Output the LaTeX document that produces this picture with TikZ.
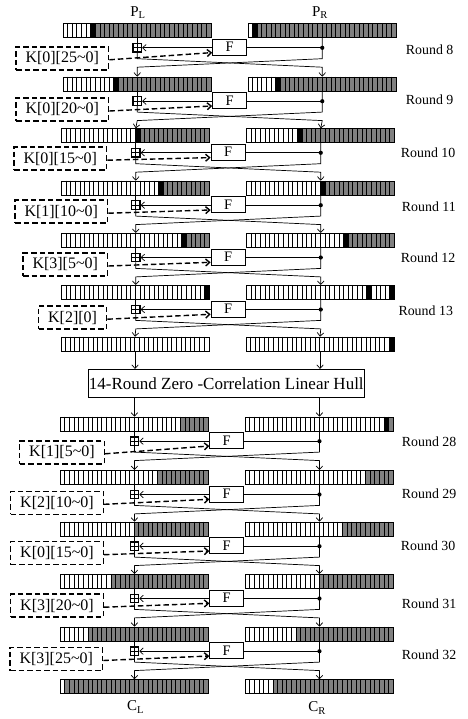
\documentclass[tikz,border=0pt]{standalone}
\usepackage{fontspec}
\setmainfont{Liberation Serif}
\usetikzlibrary{arrows.meta,calc}
\definecolor{cellgray}{RGB}{128,128,128}
\tikzset{
  conn/.style={line width=0.7pt},
  regarrow/.style={conn,-{Straight Barb[length=3.5pt,width=6.5pt]}},
  keybox/.style={draw,line width=1.5pt,dash pattern=on 5.5pt off 3pt,inner xsep=9.5pt,inner ysep=2pt,minimum height=23pt,font=\fontsize{16}{18}\selectfont},
  keyarrow/.style={line width=1.4pt,dash pattern=on 5.5pt off 3pt,-{Straight Barb[length=4pt,width=7pt]}},
  fbox/.style={draw,line width=0.8pt,minimum width=34pt,minimum height=16pt,inner sep=0pt,font=\fontsize{14.5}{16}\selectfont},
  addbox/.style={draw,line width=1.1pt,minimum size=8.5pt,inner sep=0pt,fill=white,
    path picture={\draw[line width=1.1pt] (path picture bounding box.north)--(path picture bounding box.south) (path picture bounding box.west)--(path picture bounding box.east);}},
  dotnode/.style={circle,fill=black,minimum size=4.2pt,inner sep=0pt},
  roundlbl/.style={anchor=west,inner sep=0pt,font=\fontsize{13.9}{15}\selectfont},
  iolbl/.style={inner sep=0pt,font=\fontsize{15}{17}\selectfont},
  hullbox/.style={draw,line width=0.8pt,minimum width=276.6pt,minimum height=28pt,inner sep=0pt,font=\fontsize{17}{19}\selectfont},
  regframe/.style={draw,line width=0.9pt,minimum width=148pt,minimum height=14pt,inner sep=0pt,anchor=north west},
}
\newcommand{\regbar}[4]{%
  \foreach \sa/\sb/\sc in {#4}{\fill[\sc] ({#2+\sa*4.625},#3) rectangle ({#2+\sb*4.625},{#3+14});}
  \foreach \k in {1,...,31}{\draw[line width=0.5pt] ({#2+\k*4.625},#3) -- ({#2+\k*4.625},{#3+14});}
  \node[regframe] (#1) at (#2,#3) {};
}
\newcommand{\feistelround}[8]{%
  \path (regL#1.north) ++(0,24.5) node[addbox] (add#1) {};
  \path (regR#1.north) ++(0,24.5) node[dotnode] (dot#1) {};
  \path (regL#1.north) ++(92.3,23.9) node[fbox] (F#1) {F};
  \node[keybox,anchor=east] (K#1) at (#5,#4) {#3};
  \node[roundlbl] (R#1) at (#7,#8) {#6};
  \coordinate (la#1) at ($(regL#1.south)+(0,20.5)$);
  \coordinate (lb#1) at ($(regL#1.south)+(0,29)$);
  \coordinate (ra#1) at ($(regR#1.south)+(0,20.5)$);
  \coordinate (rb#1) at ($(regR#1.south)+(0,29)$);
  \draw[conn] (regL#1.south) -- (add#1.north);
  \draw[regarrow] (add#1.south) -- (la#1) -- (rb#1) -- (regR#2.north);
  \draw[regarrow] (regR#1.south) -- (ra#1) -- (lb#1) -- (regL#2.north);
  \draw[conn] (dot#1.center) -- (dot#1 -| F#1.east);
  \draw[regarrow] (F#1.west |- add#1) -- (add#1.east);
  \draw[keyarrow] ($(K#1.east)+(0,1.5)$) -- ($(F#1.south west)+(0,-3)$);
}
\begin{document}
\begin{tikzpicture}[x=1pt,y=-1pt]
\useasboundingbox (0,0) rectangle (467,719);
% registers
\regbar{regL0}{62.8}{23.3}{0/6/white,6/7/black,7/32/cellgray}
\regbar{regR0}{247.8}{23.3}{0/1/white,1/2/black,2/32/cellgray}
\regbar{regL1}{62.8}{76.7}{0/11/white,11/12/black,12/32/cellgray}
\regbar{regR1}{247.8}{76.7}{0/6/white,6/7/black,7/32/cellgray}
\regbar{regL2}{61.3}{128.3}{0/16/white,16/17/black,17/32/cellgray}
\regbar{regR2}{246.3}{128.3}{0/11/white,11/12/black,12/32/cellgray}
\regbar{regL3}{61.3}{180.7}{0/21/white,21/22/black,22/32/cellgray}
\regbar{regR3}{246.3}{180.7}{0/16/white,16/17/black,17/32/cellgray}
\regbar{regL4}{61.3}{233}{0/26/white,26/27/black,27/32/cellgray}
\regbar{regR4}{246.3}{233}{0/21/white,21/22/black,22/32/cellgray}
\regbar{regL5}{61.3}{285}{0/31/white,31/32/black}
\regbar{regR5}{246.3}{285}{0/26/white,26/27/black,27/31/white,31/32/black}
\regbar{regL6}{60.6}{336.7}{0/32/white}
\regbar{regR6}{245.6}{336.7}{0/31/white,31/32/black}
\regbar{regL7}{60}{416.7}{0/26/white,26/32/cellgray}
\regbar{regR7}{245}{416.7}{0/30/white,30/31/black,31/32/cellgray}
\regbar{regL8}{60}{470}{0/21/white,21/32/cellgray}
\regbar{regR8}{245}{470}{0/26/white,26/32/cellgray}
\regbar{regL9}{60}{521.7}{0/16/white,16/32/cellgray}
\regbar{regR9}{245}{521.7}{0/21/white,21/32/cellgray}
\regbar{regL10}{60}{574}{0/11/white,11/32/cellgray}
\regbar{regR10}{245}{574}{0/16/white,16/32/cellgray}
\regbar{regL11}{60}{626.7}{0/6/white,6/32/cellgray}
\regbar{regR11}{245}{626.7}{0/11/white,11/32/cellgray}
\regbar{regL12}{60}{679.3}{0/1/white,1/32/cellgray}
\regbar{regR12}{245}{679.3}{0/6/white,6/32/cellgray}
% labels
\node[iolbl] (PL) at (138,13) {P\textsubscript{L}};
\node[iolbl] (PR) at (320,13) {P\textsubscript{R}};
\node[iolbl] (CL) at (135.5,707) {C\textsubscript{L}};
\node[iolbl] (CR) at (317,708) {C\textsubscript{R}};
% rounds
\feistelround{0}{1}{K[0][25\textasciitilde0]}{58.3}{109.3}{Round 8}{405.7}{50}
\feistelround{1}{2}{K[0][20\textasciitilde0]}{109.5}{109.3}{Round 9}{405.7}{100}
\feistelround{2}{3}{K[0][15\textasciitilde0]}{158.7}{107.3}{Round 10}{400.7}{152.7}
\feistelround{3}{4}{K[1][10\textasciitilde0]}{211.7}{108.3}{Round 11}{401.7}{206.7}
\feistelround{4}{5}{K[3][5\textasciitilde0]}{264.5}{108.3}{Round 12}{400.7}{258}
\feistelround{5}{6}{K[2][0]}{317.7}{107.3}{Round 13}{398.3}{310.7}
\feistelround{7}{8}{K[1][5\textasciitilde0]}{452.3}{105}{Round 28}{401.7}{441.7}
\feistelround{8}{9}{K[2][10\textasciitilde0]}{502.8}{104}{Round 29}{401.7}{494}
\feistelround{9}{10}{K[0][15\textasciitilde0]}{553.2}{104}{Round 30}{400.7}{546}
\feistelround{10}{11}{K[3][20\textasciitilde0]}{605.7}{104}{Round 31}{401.7}{603.3}
\feistelround{11}{12}{K[3][25\textasciitilde0]}{659}{103.3}{Round 32}{401.7}{654.3}
% linear hull
\node[hullbox] (hull) at (226.3,383.3) {14-Round Zero -Correlation Linear Hull};
\draw[regarrow] (regL6.south) -- (regL6.south |- hull.north);
\draw[regarrow] (regR6.south) -- (regR6.south |- hull.north);
\draw[regarrow] (hull.south -| regL7.north) -- (regL7.north);
\draw[regarrow] (hull.south -| regR7.north) -- (regR7.north);
\end{tikzpicture}
\end{document}
